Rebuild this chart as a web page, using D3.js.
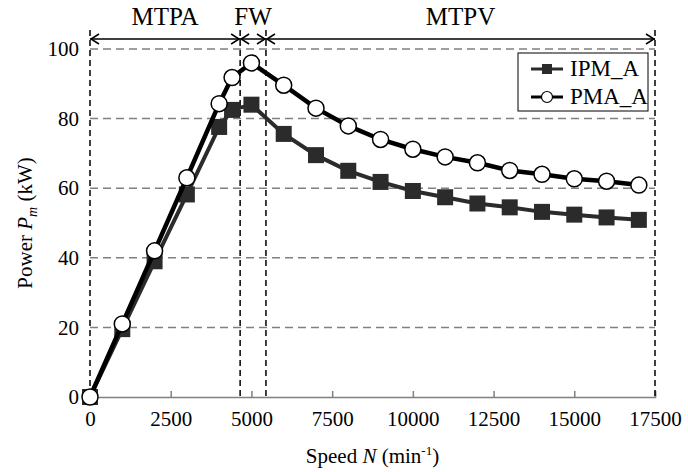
<!DOCTYPE html>
<html>
<head>
<meta charset="utf-8">
<script src="https://cdnjs.cloudflare.com/ajax/libs/d3/7.8.5/d3.min.js"></script>
<style>
  body { margin: 0; background: #fff; }
  text { font-family: "Liberation Serif", "Times New Roman", "DejaVu Serif", serif; fill: #000; }
</style>
</head>
<body>
<svg id="chart" width="688" height="472"></svg>
<script>
// data
const speed = [0, 1000, 2000, 3000, 4000, 4400, 5000, 6000, 7000, 8000, 9000,
  10000, 11000, 12000, 13000, 14000, 15000, 16000, 17000];
const ipmA = [0, 19.5, 39, 58.2, 77.6, 82.5, 84, 75.6, 69.5, 65, 61.8,
  59.2, 57.4, 55.6, 54.5, 53.2, 52.4, 51.6, 50.9];
const pmaA = [0, 21, 42, 63, 84.3, 91.8, 96, 89.6, 83, 77.9, 74,
  71.2, 69, 67.3, 65.1, 64, 62.7, 62, 60.9];
const xTicks = [0, 2500, 5000, 7500, 10000, 12500, 15000, 17500];
const yTicks = [0, 20, 40, 60, 80, 100];
const regionBounds = [0, 4650, 5450, 17500];
const regionNames = ["MTPA", "FW", "MTPV"];

const svg = d3.select("#chart");
const plotL = 90, plotR = 655, plotT = 49, plotB = 397;
const serif = "Liberation Serif";

const x = d3.scaleLinear().domain([0, 17500]).range([plotL, plotR]);
const y = d3.scaleLinear().domain([0, 100]).range([plotB, plotT]);

// gridlines (horizontal, gray dashed)
svg.append("g")
  .selectAll("line")
  .data(yTicks.filter(d => d > 0))
  .join("line")
  .attr("x1", plotL).attr("x2", plotR)
  .attr("y1", d => y(d)).attr("y2", d => y(d))
  .attr("stroke", "#808080")
  .attr("stroke-width", 1.5)
  .attr("stroke-dasharray", "8,5");

// x axis
const xAxis = svg.append("g")
  .attr("transform", `translate(0,${plotB})`)
  .call(d3.axisBottom(x).tickValues(xTicks).tickSize(-6).tickPadding(14).tickFormat(d3.format("d")));
xAxis.select(".domain").attr("stroke", "#808080").attr("stroke-width", 1.5);
xAxis.selectAll(".tick line").attr("stroke", "#808080").attr("stroke-width", 1.5);
xAxis.selectAll("text").style("font-size", "21px").attr("fill", "#000")
  .style("font-family", serif);

// y axis labels
const yAxis = svg.append("g")
  .attr("transform", `translate(${plotL},0)`)
  .call(d3.axisLeft(y).tickValues(yTicks).tickSize(0).tickPadding(11));
yAxis.select(".domain").remove();
yAxis.selectAll("text").style("font-size", "21px").attr("fill", "#000")
  .style("font-family", serif);

// region separators (black dashed verticals)
svg.append("g")
  .selectAll("line")
  .data(regionBounds)
  .join("line")
  .attr("x1", d => x(d)).attr("x2", d => x(d))
  .attr("y1", 30).attr("y2", plotB + 3)
  .attr("stroke", "#000")
  .attr("stroke-width", 1.5)
  .attr("stroke-dasharray", "6,4");

// arrows between region bounds
const arrowY = 39;
const arrows = svg.append("g").attr("stroke", "#000").attr("stroke-width", 1.5).attr("fill", "none");
regionNames.forEach((name, i) => {
  const a = x(regionBounds[i]), b = x(regionBounds[i + 1]);
  arrows.append("line").attr("x1", a).attr("x2", b).attr("y1", arrowY).attr("y2", arrowY);
  arrows.append("path").attr("d", `M${a + 9},${arrowY - 5}L${a + 1},${arrowY}L${a + 9},${arrowY + 5}`);
  arrows.append("path").attr("d", `M${b - 9},${arrowY - 5}L${b - 1},${arrowY}L${b - 9},${arrowY + 5}`);
  svg.append("text")
    .attr("x", (a + b) / 2).attr("y", 25)
    .attr("text-anchor", "middle")
    .style("font-size", "25px")
    .text(name);
});

// lines
const lineGen = vals => d3.line().x((d, i) => x(speed[i])).y(d => y(d))(vals);

svg.append("path")
  .attr("d", lineGen(ipmA))
  .attr("fill", "none")
  .attr("stroke", "#2b2b2b")
  .attr("stroke-width", 4);

svg.append("g")
  .selectAll("rect")
  .data(ipmA)
  .join("rect")
  .attr("x", (d, i) => x(speed[i]) - 8)
  .attr("y", d => y(d) - 8)
  .attr("width", 16).attr("height", 16)
  .attr("fill", "#2b2b2b");

svg.append("path")
  .attr("d", lineGen(pmaA))
  .attr("fill", "none")
  .attr("stroke", "#000")
  .attr("stroke-width", 4.5);

svg.append("g")
  .selectAll("circle")
  .data(pmaA)
  .join("circle")
  .attr("cx", (d, i) => x(speed[i]))
  .attr("cy", d => y(d))
  .attr("r", 8)
  .attr("fill", "#fff")
  .attr("stroke", "#000")
  .attr("stroke-width", 1.5);

// legend
const lg = svg.append("g").attr("transform", "translate(518,53)");
lg.append("rect").attr("width", 130).attr("height", 58)
  .attr("fill", "#fff").attr("stroke", "#000").attr("stroke-width", 1);
lg.append("line").attr("x1", 13).attr("x2", 45).attr("y1", 16).attr("y2", 16)
  .attr("stroke", "#2b2b2b").attr("stroke-width", 3);
lg.append("rect").attr("x", 24).attr("y", 11).attr("width", 10).attr("height", 10).attr("fill", "#2b2b2b");
lg.append("text").attr("x", 52).attr("y", 23).style("font-size", "23px").text("IPM_A");
lg.append("line").attr("x1", 13).attr("x2", 45).attr("y1", 44).attr("y2", 44)
  .attr("stroke", "#000").attr("stroke-width", 3);
lg.append("circle").attr("cx", 29).attr("cy", 44).attr("r", 5.5)
  .attr("fill", "#fff").attr("stroke", "#000").attr("stroke-width", 1.2);
lg.append("text").attr("x", 52).attr("y", 51).style("font-size", "23px").text("PMA_A");

// axis titles
const xt = svg.append("text")
  .attr("x", (plotL + plotR) / 2).attr("y", 463)
  .attr("text-anchor", "middle")
  .style("font-size", "21px");
xt.append("tspan").text("Speed ");
xt.append("tspan").style("font-style", "italic").text("N");
xt.append("tspan").text(" (min");
xt.append("tspan").attr("dy", -8).style("font-size", "13px").text("-1");
xt.append("tspan").attr("dy", 8).text(")");

const yt = svg.append("text")
  .attr("transform", `translate(32,${(plotT + plotB) / 2}) rotate(-90)`)
  .attr("text-anchor", "middle")
  .style("font-size", "21px");
yt.append("tspan").text("Power ");
yt.append("tspan").style("font-style", "italic").text("P");
yt.append("tspan").attr("dy", 5).style("font-size", "14px").style("font-style", "italic").text("m");
yt.append("tspan").attr("dy", -5).text(" (kW)");
</script>
</body>
</html>
